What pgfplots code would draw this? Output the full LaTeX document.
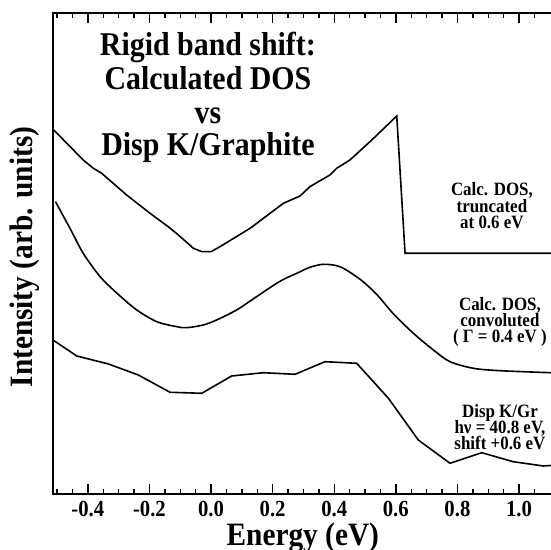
\documentclass[border=0pt]{standalone}
\usepackage{pgfplots}
\pgfplotsset{compat=1.18}
\usepackage{fontspec}
\setmainfont{Liberation Serif}[FakeStretch=0.9]

\begin{document}
\begin{tikzpicture}
\begin{axis}[
  at={(26.35pt,27.85pt)}, anchor=south west,
  scale only axis, width=250.1pt, height=240.5pt,
  xmin=-0.514, xmax=1.11, ymin=0, ymax=481,
  axis line style={line width=1pt},
  xtick={-0.4,-0.2,0,0.2,0.4,0.6,0.8,1.0},
  xticklabels={-0.4,-0.2,0.0,0.2,0.4,0.6,0.8,1.0},
  minor xtick={-0.5,-0.45,-0.35,-0.3,-0.25,-0.15,-0.1,-0.05,0.05,0.1,0.15,0.25,0.3,0.35,0.45,0.5,0.55,0.65,0.7,0.75,0.85,0.9,0.95,1.05},
  ytick=\empty,
  tick align=inside,
  major tick length=5pt, minor tick length=2.5pt,
  every tick/.style={black, line width=0.7pt},
  xticklabel style={font=\bfseries\fontsize{11.5}{13}\selectfont, anchor=base, yshift=-11.3pt},
  xlabel={Energy (eV)},
  ylabel={Intensity (arb. units)},
  label style={font=\bfseries\fontsize{16.3}{19}\selectfont},
  xlabel style={at={(axis description cs:0.5,0)}, anchor=base, yshift=-25.5pt},
  % the y label is rotated, so its shifts act in the rotated frame
  ylabel style={at={(axis description cs:0,0.5)}, anchor=base, xshift=-1.6pt, yshift=9.85pt},
]

% Calculated DOS, truncated at 0.6 eV
\addplot[black, line width=0.8pt] coordinates {
  (-0.514,365) (-0.505,362.6) (-0.415,334.3) (-0.382,326) (-0.355,321)
  (-0.274,299.3) (-0.198,281) (-0.139,267.6) (-0.106,259.3) (-0.057,246)
  (-0.030,242.6) (0.000,242.6) (0.029,247.6) (0.127,266) (0.235,291)
  (0.289,298.3) (0.321,307.6) (0.386,319.3) (0.408,326) (0.451,334.3)
  (0.522,354.3) (0.603,378.3) (0.630,241) (1.11,241)
};

% Calculated DOS, convoluted (Gamma = 0.4 eV)
\addplot[black, line width=0.8pt, smooth] coordinates {
  (-0.505,292.6) (-0.455,264.3) (-0.415,241) (-0.360,217.6) (-0.305,201)
  (-0.241,184.3) (-0.176,172.6) (-0.111,167.6) (-0.079,166.6) (-0.025,169.3)
  (0.018,174.3) (0.083,184.3) (0.148,197.6) (0.224,213) (0.289,222.5)
  (0.321,227) (0.365,230) (0.419,227.5) (0.484,215) (0.539,199.5)
  (0.592,180.5) (0.657,161) (0.722,144.3) (0.776,132.6) (0.852,126)
  (0.938,123.6) (1.11,121.5)
};

% Dispersed K/graphite, hv = 40.8 eV, shifted by +0.6 eV
\addplot[black, line width=0.8pt] coordinates {
  (-0.514,154.5) (-0.436,138.3) (-0.333,130.3) (-0.236,119.3) (-0.133,102)
  (-0.030,101) (0.067,118.3) (0.170,121.6) (0.273,120) (0.370,132.6)
  (0.473,131) (0.576,96) (0.673,54.3) (0.776,31) (0.879,41.6)
  (0.981,32.6) (1.079,28.3) (1.11,29)
};

\tikzset{ttl/.style={anchor=base, font=\bfseries\fontsize{16.6}{19}\selectfont},
         ann/.style={anchor=base, font=\bfseries\fontsize{9.4}{11}\selectfont}}
\node[ttl] at (axis cs:-0.01,438.3) {Rigid band shift:};
\node[ttl] at (axis cs:-0.01,404.3) {Calculated DOS};
\node[ttl] at (axis cs:-0.01,370.3) {vs};
\node[ttl] at (axis cs:-0.01,338.3) {Disp K/Graphite};

\node[ann] at (axis cs:0.912,298.3) {Calc. DOS,};
\node[ann] at (axis cs:0.912,281.3) {truncated};
\node[ann] at (axis cs:0.912,265.3) {at 0.6 eV};

\node[ann] at (axis cs:0.938,183.3) {Calc. DOS,};
\node[ann] at (axis cs:0.938,167.3) {convoluted};
\node[ann] at (axis cs:0.938,151.3) {( Γ = 0.4 eV )};

\node[ann] at (axis cs:0.938,76.3) {Disp K/Gr};
\node[ann] at (axis cs:0.938,60.3) {hν = 40.8 eV,};
\node[ann] at (axis cs:0.938,44.3) {shift +0.6 eV};
\end{axis}
\pgfresetboundingbox
\useasboundingbox (0,0) rectangle (275.5pt,275pt);
\end{tikzpicture}
\end{document}
